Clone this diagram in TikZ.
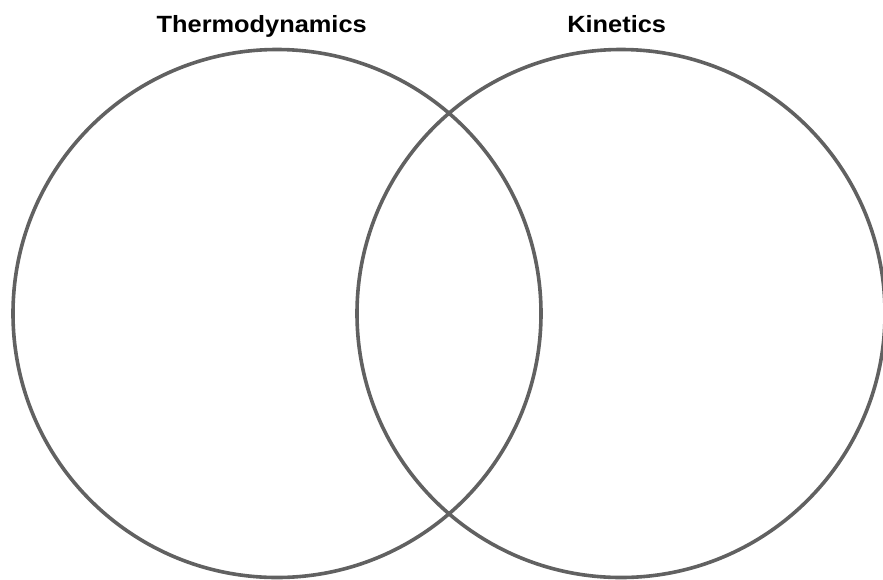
\documentclass[tikz,border=0pt]{standalone}
\usepackage{fontspec}
\setmainfont{Liberation Sans}
\begin{document}
\begin{tikzpicture}[x=1pt,y=-1pt]
	% Styles (MODIFIABLES)
	\tikzstyle{cercle}=[draw=black!62,line width=3.6pt]
	\tikzstyle{titre}=[font=\fontsize{23.5}{28}\selectfont\bfseries,inner sep=0pt,anchor=base,xscale=1.08]
	% Dimensions (MODIFIABLES)
	\def\Rayon{264}
	\def\CentreAx{277}
	\def\CentreBx{621}
	\def\CentreY{313.5}
	\def\LigneTitres{32.7}
	% Cadre
	\useasboundingbox (0,0) rectangle (883,579);
	% Cercles
	\draw[cercle] (\CentreAx,\CentreY) circle[radius=\Rayon];
	\draw[cercle] (\CentreBx,\CentreY) circle[radius=\Rayon];
	% Titres
	\node[titre] (thermo) at (261.7,\LigneTitres) {Thermodynamics};
	\node[titre] (kinetics) at (616.7,\LigneTitres) {Kinetics};
\end{tikzpicture}
\end{document}
